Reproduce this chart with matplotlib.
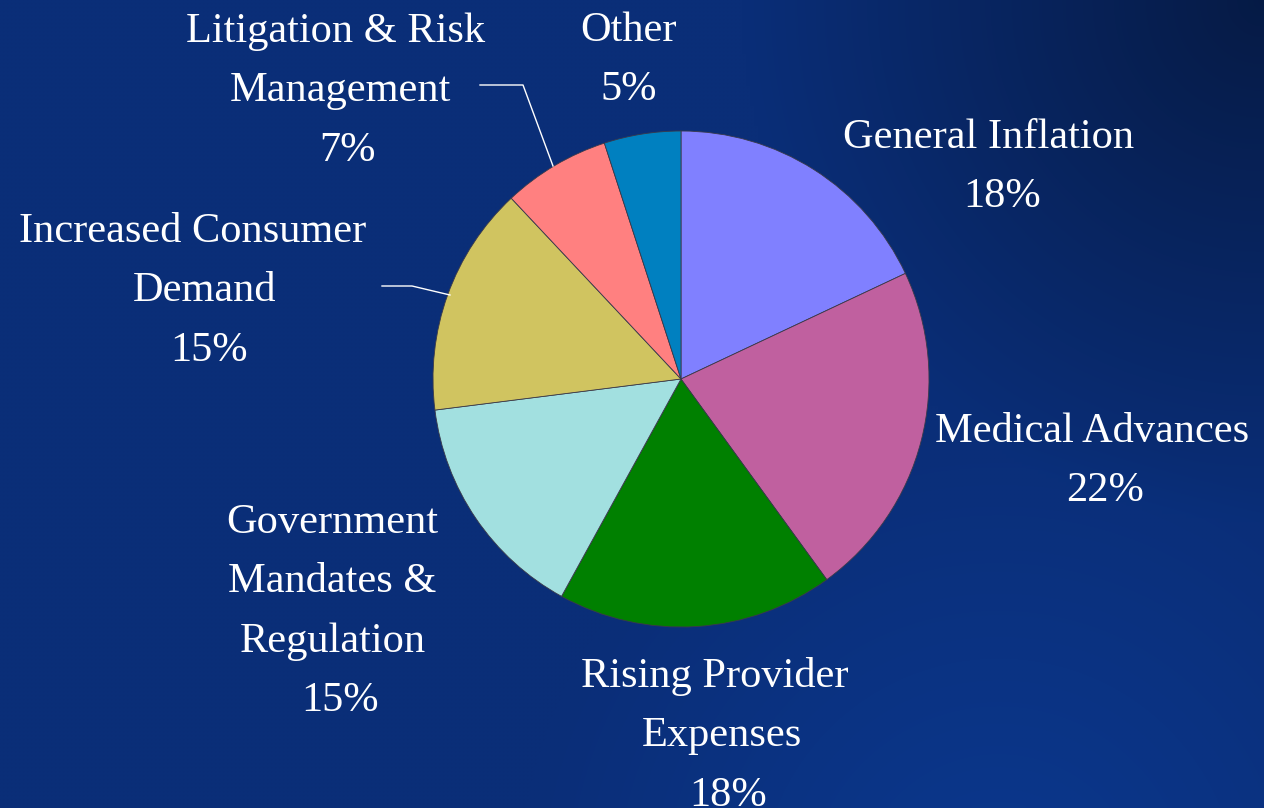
import numpy as np
import matplotlib
matplotlib.use("Agg")
import matplotlib.pyplot as plt

# chart data
categories = [
    "General Inflation",
    "Medical Advances",
    "Rising Provider Expenses",
    "Government Mandates & Regulation",
    "Increased Consumer Demand",
    "Litigation & Risk Management",
    "Other",
]
label_lines = [
    ["General Inflation"],
    ["Medical Advances"],
    ["Rising Provider", "Expenses"],
    ["Government", "Mandates &", "Regulation"],
    ["Increased Consumer", "Demand"],
    ["Litigation & Risk", "Management"],
    ["Other"],
]
shares = [18, 22, 18, 15, 15, 7, 5]
slice_colors = ["#8080FF", "#C0609F", "#008000", "#A2E0E0", "#D0C460", "#FF8080", "#0080C0"]

W, H = 1264, 808

# label layout in pixels (x centre of each line, first baseline from top)
line_x = [[989, 1002], [1092, 1105], [715, 722, 728], [332, 332, 333, 340],
          [193, 205, 209], [336, 340, 348], [628, 629]]
first_baseline = [148, 442, 687, 533, 242, 42, 41]
line_step = 59.3

leaders = {
    "Litigation & Risk Management": [(480, 85), (523, 85), (553, 166)],
    "Increased Consumer Demand": [(382, 286), (412, 286), (450, 295)],
}

fig = plt.figure(figsize=(W / 100, H / 100), dpi=100)
ax = fig.add_axes([0, 0, 1, 1])

# background: dark blue with a glow at the bottom and a darker top-right corner
gx, gy = np.meshgrid(np.linspace(0, W, 316), np.linspace(0, H, 202))
base = np.array([10, 46, 120]) / 255
dark = np.clip(1 - np.hypot(gx - W, gy) / 520, 0, 1)
glow = np.clip(1 - np.hypot(gx - 1000, gy - 900) / 480, 0, 1)
bg = base[None, None, :] * (1 - 0.42 * dark[..., None])
bg = bg + (np.array([0, 10, 22]) / 255)[None, None, :] * glow[..., None]
bg = np.clip(bg, 0, 1)
ax.imshow(bg, extent=(0, W, 0, H), origin="upper", aspect="auto", zorder=0,
          interpolation="bilinear")

ax.pie(shares, colors=slice_colors, startangle=90, counterclock=False,
       center=(681, H - 379), radius=248,
       wedgeprops=dict(edgecolor="#3a3a4a", linewidth=0.6, zorder=2))

font = dict(family=["Liberation Serif", "DejaVu Serif"], size=30.5, color="white")
for i, name in enumerate(categories):
    lines = label_lines[i] + [f"{shares[i]}%"]
    for j, text in enumerate(lines):
        y = first_baseline[i] + j * line_step
        ax.text(line_x[i][j], H - y, text, ha="center", va="baseline", zorder=3, **font)
    if name in leaders:
        pts = leaders[name]
        ax.plot([p[0] for p in pts], [H - p[1] for p in pts], color="white",
                linewidth=1.0, zorder=3)

ax.set_xlim(0, W)
ax.set_ylim(0, H)
ax.set_axis_off()

fig.savefig("out.png", dpi=100)
